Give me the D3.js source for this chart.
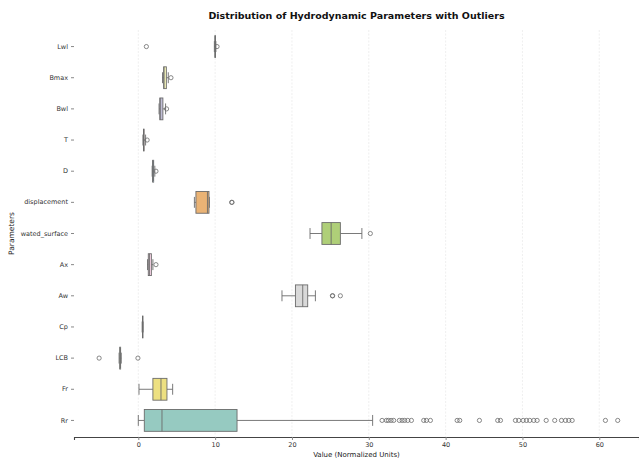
<!DOCTYPE html>
<html>
<head>
<meta charset="utf-8">
<script src="https://cdn.jsdelivr.net/npm/d3@7"></script>
<style>
  body { margin: 0; background: #fff; }
  text { font-family: "DejaVu Sans", sans-serif; }
</style>
</head>
<body>
<div id="chart"></div>
<script>
// box statistics
var params = ["Lwl", "Bmax", "Bwl", "T", "D", "displacement", "wated_surface",
              "Ax", "Aw", "Cp", "LCB", "Fr", "Rr"];
var whiskLo = [9.9, 3.15, 2.7, 0.6, 1.8, 7.3, 22.35, 1.2, 18.7, 0.5, -2.5, 0.09, 0.0];
var q1s     = [9.97, 3.3, 2.8, 0.67, 1.87, 7.5, 23.9, 1.3, 20.45, 0.54, -2.42, 1.9, 0.78];
var medians = [10.0, 3.35, 2.85, 0.7, 1.9, 9.0, 25.1, 1.45, 21.4, 0.56, -2.35, 2.95, 3.08];
var q3s     = [10.05, 3.65, 3.2, 0.75, 2.0, 9.2, 26.3, 1.7, 22.05, 0.58, -2.3, 3.73, 12.85];
var whiskHi = [10.1, 3.9, 3.55, 0.95, 2.15, 9.25, 29.1, 1.9, 23.05, 0.62, -2.22, 4.47, 30.5];
var outliers = [
  [1.05, 10.25],
  [4.25],
  [3.68],
  [1.15],
  [2.3],
  [12.15, 12.2],
  [30.2],
  [2.3],
  [25.26, 25.3, 26.3],
  [],
  [-5.1, -0.05],
  [],
  [31.73, 32.29, 32.55, 32.9, 33.24, 33.98, 34.34, 34.67, 35.07, 35.55, 37.15, 37.5,
   38.02, 41.5, 41.84, 44.4, 46.78, 47.14, 49.09, 49.52, 50.09, 50.52, 50.95, 51.47,
   51.91, 53.09, 54.2, 55.08, 55.6, 56.03, 56.47, 60.8, 62.4]
];
var xTicks = [0, 10, 20, 30, 40, 50, 60];
var palette = ["#8dd3c7", "#ffffb3", "#bebada", "#fb8072", "#80b1d3", "#fdb462",
               "#b3de69", "#fccde5", "#d9d9d9", "#bc80bd", "#ccebc5", "#ffed6f"];

var width = 639, height = 461;
var plotLeft = 74, plotRight = 639, plotTop = 31, plotBottom = 436;

var svg = d3.select("#chart").append("svg")
  .attr("width", width)
  .attr("height", height);

var x = d3.scaleLinear().domain([-8.37, 65.17]).range([plotLeft, plotRight]);
var y = d3.scaleBand().domain(params).range([plotTop, plotBottom]).padding(0);

// seaborn style desaturated colours
function boxColor(i) {
  var c = d3.hsl(palette[i % palette.length]);
  c.s = c.s * 0.75;
  return c.formatHex();
}

// grid
svg.append("g").selectAll("line")
  .data(xTicks)
  .enter().append("line")
  .attr("x1", function(d) { return x(d); })
  .attr("x2", function(d) { return x(d); })
  .attr("y1", plotTop - 1)
  .attr("y2", plotBottom + 1)
  .attr("stroke", "#e4e4e4")
  .attr("stroke-width", 0.6)
  .attr("stroke-dasharray", "2,1.5");

var lineCol = "#6b6b6b";
var boxH = y.bandwidth() * 0.7;
var capH = boxH * 0.5;

var rows = svg.append("g").selectAll("g")
  .data(params)
  .enter().append("g")
  .attr("transform", function(d) { return "translate(0," + (y(d) + y.bandwidth() / 2) + ")"; });

// whiskers
rows.append("line")
  .attr("x1", function(d, i) { return x(whiskLo[i]); })
  .attr("x2", function(d, i) { return x(q1s[i]); })
  .attr("stroke", lineCol).attr("stroke-width", 0.9);
rows.append("line")
  .attr("x1", function(d, i) { return x(q3s[i]); })
  .attr("x2", function(d, i) { return x(whiskHi[i]); })
  .attr("stroke", lineCol).attr("stroke-width", 0.9);
// caps
rows.append("line")
  .attr("x1", function(d, i) { return x(whiskLo[i]); })
  .attr("x2", function(d, i) { return x(whiskLo[i]); })
  .attr("y1", -capH / 2).attr("y2", capH / 2)
  .attr("stroke", lineCol).attr("stroke-width", 0.9);
rows.append("line")
  .attr("x1", function(d, i) { return x(whiskHi[i]); })
  .attr("x2", function(d, i) { return x(whiskHi[i]); })
  .attr("y1", -capH / 2).attr("y2", capH / 2)
  .attr("stroke", lineCol).attr("stroke-width", 0.9);

// boxes
rows.append("rect")
  .attr("x", function(d, i) { return x(q1s[i]); })
  .attr("width", function(d, i) { return Math.max(0.5, x(q3s[i]) - x(q1s[i])); })
  .attr("y", -boxH / 2)
  .attr("height", boxH)
  .attr("fill", function(d, i) { return boxColor(i); })
  .attr("stroke", lineCol)
  .attr("stroke-width", 0.9);

// medians
rows.append("line")
  .attr("x1", function(d, i) { return x(medians[i]); })
  .attr("x2", function(d, i) { return x(medians[i]); })
  .attr("y1", -boxH / 2).attr("y2", boxH / 2)
  .attr("stroke", lineCol).attr("stroke-width", 0.9);

// fliers
rows.selectAll("circle")
  .data(function(d, i) { return outliers[i]; })
  .enter().append("circle")
  .attr("cx", function(d) { return x(d); })
  .attr("cy", 0)
  .attr("r", 2.1)
  .attr("fill", "none")
  .attr("stroke", lineCol)
  .attr("stroke-width", 0.8);

// x axis
var xAxis = svg.append("g")
  .attr("transform", "translate(0," + (plotBottom + 1) + ")")
  .call(d3.axisBottom(x).tickValues(xTicks).tickSize(3).tickPadding(2));
xAxis.select(".domain").attr("stroke", "#444").attr("stroke-width", 1.1);
xAxis.selectAll(".tick line").attr("stroke", "#888");
xAxis.selectAll("text").attr("font-size", "6.5px").attr("fill", "#333")
  .style("font-family", "DejaVu Sans");

// y axis
var yAxis = svg.append("g")
  .attr("transform", "translate(" + plotLeft + ",0)")
  .call(d3.axisLeft(y).tickSize(3).tickPadding(3));
yAxis.select(".domain").remove();
yAxis.selectAll(".tick line").attr("stroke", "#888");
yAxis.selectAll("text").attr("font-size", "6.5px").attr("fill", "#333")
  .style("font-family", "DejaVu Sans");

// titles
svg.append("text")
  .attr("x", (plotLeft + plotRight) / 2)
  .attr("y", 19)
  .attr("text-anchor", "middle")
  .attr("font-size", "9.5px")
  .attr("font-weight", "bold")
  .attr("fill", "#111")
  .text("Distribution of Hydrodynamic Parameters with Outliers");

svg.append("text")
  .attr("x", (plotLeft + plotRight) / 2)
  .attr("y", 457)
  .attr("text-anchor", "middle")
  .attr("font-size", "7px")
  .attr("fill", "#222")
  .text("Value (Normalized Units)");

svg.append("text")
  .attr("transform", "translate(14," + ((plotTop + plotBottom) / 2) + ") rotate(-90)")
  .attr("text-anchor", "middle")
  .attr("font-size", "7.5px")
  .attr("fill", "#222")
  .text("Parameters");
</script>
</body>
</html>
